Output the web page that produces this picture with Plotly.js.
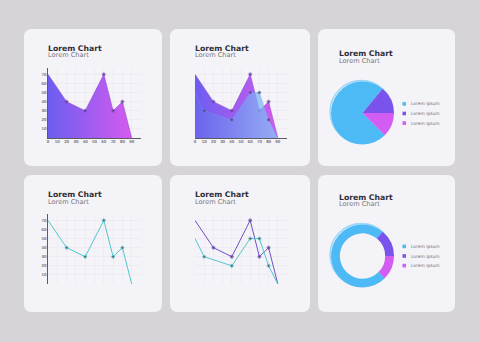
<!DOCTYPE html>
<html>
<head>
<meta charset="utf-8">
<script src="https://cdn.plot.ly/plotly-3.0.1.min.js"></script>
<style>
  html, body { margin: 0; padding: 0; background: #d6d4d8; }
  #chart { width: 480px; height: 342px; }
</style>
</head>
<body>
<div id="chart"></div>
<script>
// ---- data ----
const xA = [0, 20, 40, 60, 70, 80, 90];
const seriesA = [70, 40, 30, 70, 30, 40, 0];
const xB = [0, 10, 40, 60, 70, 80, 90];
const seriesB = [50, 30, 20, 50, 50, 20, 0];
const xTickVals = [0, 10, 20, 30, 40, 50, 60, 70, 80, 90, 100];
const xTickText = ['0', '10', '20', '30', '40', '50', '60', '70', '80', '90', ''];
const yTickVals = [0, 10, 20, 30, 40, 50, 60, 70];
const yTickText = ['', '10', '20', '30', '40', '50', '60', '70'];
const pieLabels = ['Lorem Ipsum', 'Lorem Ipsum\u200b', 'Lorem Ipsum\u200b\u200b'];
const pieValues = [73.5, 14, 12.5];
const pieColors = ['#4db9f5', '#7a52ec', '#d35cf2'];
const chartTitle = 'Lorem Chart';
const chartSubtitle = 'Lorem Chart';

// ---- page geometry helpers (pixels -> paper fractions) ----
const W = 480, H = 342;
const fx = p => p / W;
const fy = p => 1 - p / H;
const FONT = '"DejaVu Sans", sans-serif';

function roundRect(x0, y0, x1, y1, r) {
  const rx = r / W, ry = r / H;
  const a = fx(x0), b = fx(x1), t = fy(y0), u = fy(y1);
  return `M${a + rx},${t} L${b - rx},${t} Q${b},${t} ${b},${t - ry} ` +
         `L${b},${u + ry} Q${b},${u} ${b - rx},${u} L${a + rx},${u} ` +
         `Q${a},${u} ${a},${u + ry} L${a},${t - ry} Q${a},${t} ${a + rx},${t} Z`;
}

const cols = [[24, 162], [170, 310], [318, 455]];
const rows = [[29, 166], [175, 312]];

const shapes = [];
rows.forEach(r => cols.forEach(c => {
  shapes.push({ type: 'path', xref: 'paper', yref: 'paper', layer: 'below',
    path: roundRect(c[0], r[0], c[1], r[1], 8),
    fillcolor: '#f4f3f7', line: { width: 0 } });
}));

// light rim behind each pie, giving the slight raised look at the top-left edge
function addRim(cx, cy, r) {
  shapes.push({ type: 'circle', xref: 'paper', yref: 'paper', layer: 'below',
    x0: fx(cx - r), x1: fx(cx + r), y0: fy(cy + r), y1: fy(cy - r),
    fillcolor: 'rgba(0,0,0,0)', line: { color: '#9fd8f8', width: 1.6 } });
}
addRim(361.3, 111.8, 31.2);
addRim(361.3, 254.8, 31.2);

// ---- axes ----
const tickFont = { family: FONT, size: 3.9, color: '#7a7a80' };
function xAxis(px0, px1) {
  return { domain: [fx(px0), fx(px1)], range: [0, 100], tickmode: 'array',
    tickvals: xTickVals, ticktext: xTickText, showgrid: true, gridcolor: '#ece6ee',
    gridwidth: 0.6, zeroline: false, showline: true, linecolor: '#55555c', linewidth: 0.8,
    ticks: '', tickfont: tickFont, fixedrange: true };
}
function yAxis(py0, py1) {
  return { domain: [fy(py1), fy(py0)], range: [0, 77], tickmode: 'array',
    tickvals: yTickVals, ticktext: yTickText, showgrid: true, gridcolor: '#ece6ee',
    gridwidth: 0.6, zeroline: false, showline: true, linecolor: '#55555c', linewidth: 0.8,
    ticks: '', tickfont: tickFont, fixedrange: true };
}

const dotSizes = n => Array.from({ length: n }, (_, i) => (i === 0 || i === n - 1) ? 0 : 3);
const dotMarker = n => ({ size: dotSizes(n), color: '#3a3848' });
const purpleGrad = { type: 'horizontal', colorscale: [[0, '#6b5ef0'], [1, '#d65af0']] };

const traces = [
  // chart 1: single gradient area
  { x: xA, y: seriesA, xaxis: 'x', yaxis: 'y', type: 'scatter', mode: 'lines+markers',
    fill: 'tozeroy', fillgradient: purpleGrad,
    line: { color: '#8a4fd8', width: 0.6 }, marker: dotMarker(xA.length) },
  // chart 2: two overlapping areas
  { x: xA, y: seriesA, xaxis: 'x2', yaxis: 'y2', type: 'scatter', mode: 'lines+markers',
    fill: 'tozeroy', fillgradient: purpleGrad,
    line: { color: '#8a4fd8', width: 0.6 }, marker: dotMarker(xA.length) },
  { x: xB, y: seriesB, xaxis: 'x2', yaxis: 'y2', type: 'scatter', mode: 'lines+markers',
    fill: 'tozeroy',
    fillgradient: { type: 'horizontal', colorscale: [[0, 'rgba(108,100,236,0.72)'], [1, 'rgba(125,205,246,0.72)']] },
    line: { color: 'rgba(110,150,235,0.5)', width: 0.6 }, marker: dotMarker(xB.length) },
  // chart 4: single line
  { x: xA, y: seriesA, xaxis: 'x3', yaxis: 'y3', type: 'scatter', mode: 'lines+markers',
    line: { color: '#4fc8cd', width: 1 }, marker: dotMarker(xA.length) },
  // chart 5: two lines
  { x: xA, y: seriesA, xaxis: 'x4', yaxis: 'y4', type: 'scatter', mode: 'lines+markers',
    line: { color: '#7150c8', width: 1 }, marker: dotMarker(xA.length) },
  { x: xB, y: seriesB, xaxis: 'x4', yaxis: 'y4', type: 'scatter', mode: 'lines+markers',
    line: { color: '#4fc8cd', width: 1 }, marker: dotMarker(xB.length) },
  // chart 3: pie
  { type: 'pie', labels: pieLabels, values: pieValues, marker: { colors: pieColors },
    sort: false, direction: 'clockwise', rotation: 135, textinfo: 'none', hoverinfo: 'none',
    showlegend: false, domain: { x: [fx(331), fx(394)], y: [fy(144.5), fy(81.5)] } },
  // chart 6: donut
  { type: 'pie', labels: pieLabels, values: pieValues, marker: { colors: pieColors },
    hole: 0.72, sort: false, direction: 'clockwise', rotation: 135, textinfo: 'none',
    hoverinfo: 'none', showlegend: false,
    domain: { x: [fx(331), fx(394)], y: [fy(287.5), fy(224.5)] } }
];

// ---- titles ----
const annotations = [];
function addTitle(px, capMid) {
  annotations.push({ xref: 'paper', yref: 'paper', x: fx(px - 1.5), y: fy(capMid),
    xanchor: 'left', yanchor: 'middle', showarrow: false, borderpad: 0,
    text: '<b>' + chartTitle + '</b>',
    font: { family: FONT, size: 7.7, color: '#2e2d36' } });
  annotations.push({ xref: 'paper', yref: 'paper', x: fx(px - 1.5), y: fy(capMid + 6.9),
    xanchor: 'left', yanchor: 'middle', showarrow: false, borderpad: 0, text: chartSubtitle,
    font: { family: FONT, size: 6.6, color: '#75747c' } });
}
addTitle(48, 48.6);
addTitle(195, 48.6);
addTitle(339, 53.6);
addTitle(48, 194.6);
addTitle(195, 194.6);
addTitle(339, 197.2);

// ---- pie legends ----
function addLegend(cy) {
  pieLabels.forEach((lab, i) => {
    const y = cy + (i - 1) * 9.6;
    shapes.push({ type: 'rect', xref: 'paper', yref: 'paper',
      x0: fx(402.5), x1: fx(406), y0: fy(y + 1.8), y1: fy(y - 1.8),
      fillcolor: pieColors[i], line: { width: 0 } });
    annotations.push({ xref: 'paper', yref: 'paper', x: fx(409.5), y: fy(y),
      xanchor: 'left', yanchor: 'middle', showarrow: false, borderpad: 0, text: lab,
      font: { family: FONT, size: 4.4, color: '#6f6e76' } });
  });
}
addLegend(113.5);
addLegend(256);

const layout = {
  width: W, height: H, margin: { l: 0, r: 0, t: 0, b: 0 },
  paper_bgcolor: '#d6d4d8', plot_bgcolor: 'rgba(0,0,0,0)', showlegend: false,
  xaxis: xAxis(48, 141), yaxis: yAxis(68, 138),
  xaxis2: xAxis(195, 287), yaxis2: yAxis(68, 138),
  xaxis3: xAxis(48, 141), yaxis3: yAxis(214, 284),
  xaxis4: xAxis(195, 287), yaxis4: yAxis(214, 284),
  shapes: shapes, annotations: annotations
};

Plotly.newPlot('chart', traces, layout, { staticPlot: true, displayModeBar: false });
</script>
</body>
</html>
